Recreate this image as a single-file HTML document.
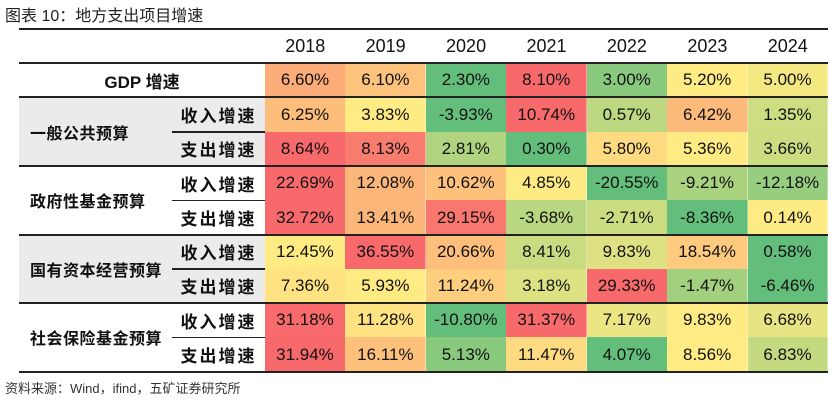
<!DOCTYPE html>
<html><head><meta charset="utf-8">
<style>
body{margin:0;width:835px;height:401px;background:#fff;font-family:"Liberation Sans","Noto Sans CJK SC",sans-serif;color:#111;overflow:hidden;position:relative}
#title{position:absolute;left:5px;top:2px;font-size:16px;color:#222}
#src{position:absolute;left:5px;top:378px;font-size:13px;color:#333}
.abs{position:absolute;box-sizing:border-box;display:flex;align-items:center;justify-content:center;white-space:nowrap}
.line{position:absolute;background:#222}
</style></head><body>
<div id="title">图表 10：地方支出项目增速</div>
<div id="tbl"></div>
<div id="src">资料来源：Wind，ifind，五矿证券研究所</div>
<script>
const years=["2018","2019","2020","2021","2022","2023","2024"];
const rowGroups=["GDP 增速","一般公共预算","一般公共预算","政府性基金预算","政府性基金预算","国有资本经营预算","国有资本经营预算","社会保险基金预算","社会保险基金预算"];
const rowSubs=["","收入增速","支出增速","收入增速","支出增速","收入增速","支出增速","收入增速","支出增速"];
const gdp=[6.60,6.10,2.30,8.10,3.00,5.20,5.00];
const gpbIncome=[6.25,3.83,-3.93,10.74,0.57,6.42,1.35];
const gpbExpense=[8.64,8.13,2.81,0.30,5.80,5.36,3.66];
const gfbIncome=[22.69,12.08,10.62,4.85,-20.55,-9.21,-12.18];
const gfbExpense=[32.72,13.41,29.15,-3.68,-2.71,-8.36,0.14];
const socIncome=[12.45,36.55,20.66,8.41,9.83,18.54,0.58];
const socExpense=[7.36,5.93,11.24,3.18,29.33,-1.47,-6.46];
const sibIncome=[31.18,11.28,-10.80,31.37,7.17,9.83,6.68];
const sibExpense=[31.94,16.11,5.13,11.47,4.07,8.56,6.83];
const rows=[gdp,gpbIncome,gpbExpense,gfbIncome,gfbExpense,socIncome,socExpense,sibIncome,sibExpense];

const X0=19,XC=265,XE=828,YT=29,YH=63,RH=34.3;
const colW=(XE-XC)/years.length;
const R=[248,105,107],Y=[255,235,132],G=[99,190,123];
function mix(a,b,t){return `rgb(${a.map((v,i)=>Math.round(v+(b[i]-v)*t)).join(',')})`;}
function color(v,arr){const s=[...arr].sort((a,b)=>a-b);const mn=s[0],mx=s[s.length-1];
  const n=s.length;const med=n%2?s[(n-1)/2]:(s[n/2-1]+s[n/2])/2;
  if(v>=med)return mix(Y,R,mx===med?0:(v-med)/(mx-med));return mix(Y,G,(med-v)/(med-mn));}
const T=document.getElementById('tbl');
function div(cls,css,txt){const d=document.createElement('div');d.className=cls;d.style.cssText=css;if(txt!==undefined)d.textContent=txt;T.appendChild(d);return d;}
function rowY(i){return i===0?YH:YH+RH+(i-1)*RH;}
[1,5].forEach(i=>{const g=div('abs',`left:${X0}px;top:${rowY(i)}px;width:${XC-X0}px;height:${RH*2}px;background:#ebebeb`);

});
years.forEach((y,j)=>{const h=div('abs',`left:${XC+j*colW}px;top:${YT}px;width:${colW}px;height:${YH-YT}px;font-size:18px`,y);

});
rows.forEach((arr,i)=>{arr.forEach((v,j)=>{const c=div('abs',`left:${XC+j*colW}px;top:${rowY(i)}px;width:${colW+0.5}px;height:${RH+0.5}px;background:${color(v,arr)};font-size:17px;border-right:1px solid rgba(255,255,255,0.4)`,v.toFixed(2)+'%');

});
 if(rowSubs[i]){const s=div('abs',`left:172px;top:${rowY(i)}px;width:${XC-172}px;height:${RH}px;font-size:17px;font-weight:bold;letter-spacing:2px`,rowSubs[i]);
 
 }
});
const gl=div('abs',`left:${X0}px;top:${YH}px;width:${XC-X0}px;height:${RH}px;font-size:17px;font-weight:bold`,rowGroups[0]);


[1,3,5,7].forEach(i=>{const g=div('abs',`left:${X0+11}px;top:${rowY(i)}px;width:140px;height:${RH*2}px;font-size:16px;font-weight:bold;justify-content:flex-start;letter-spacing:0.5px`,rowGroups[i]);

});
function line(x,y,w,h){const l=div('line',`left:${x}px;top:${y}px;width:${w}px;height:${h}px`);

}
line(X0,YT-1,XE-X0,2);
[0,1,3,5,7,9].forEach(i=>line(X0,rowY(i)-1,XE-X0,2));
[2,4,6,8].forEach(i=>line(172,rowY(i)-0.5,XC-172,1.5));
</script>
</body></html>
